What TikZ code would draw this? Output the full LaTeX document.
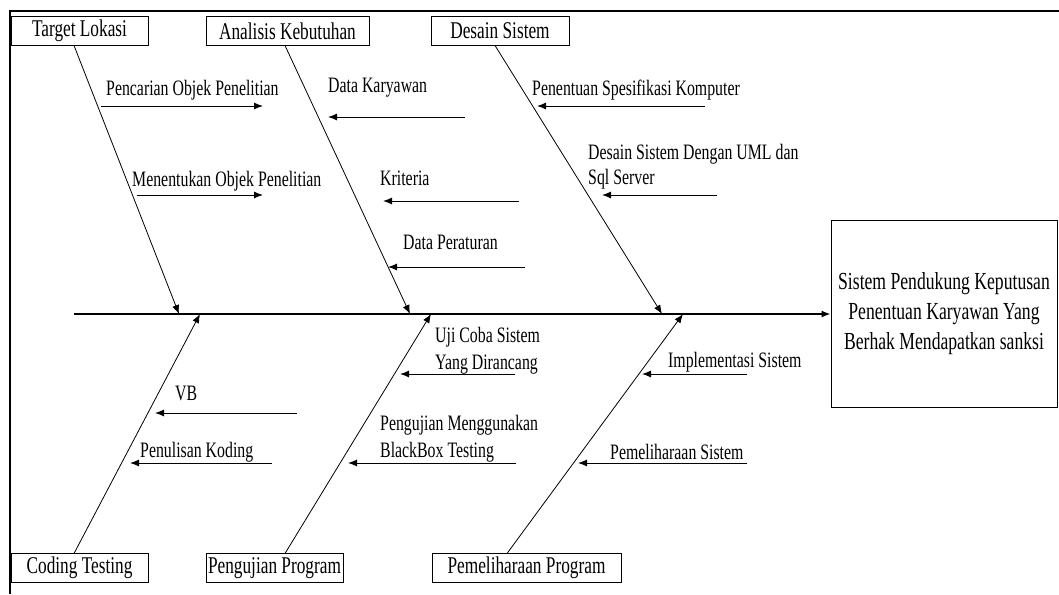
\documentclass[tikz,border=0pt]{standalone}
\usepackage{fontspec}
\setmainfont{Liberation Serif}[FakeStretch=0.72]
\usetikzlibrary{arrows.meta}

\begin{document}
\begin{tikzpicture}[x=1pt,y=-1pt,
  catbox/.style={draw,line width=1pt,minimum height=29pt,inner sep=0pt,font=\fontsize{24}{26}\selectfont},
  lbl/.style={anchor=west,inner sep=0pt,align=left,font=\fontsize{22}{27}\selectfont},
  bone/.style={line width=0.8pt,-{Latex[length=9pt,width=7pt]}},
  sub/.style={line width=1pt,-{Latex[length=9pt,width=7pt]}}]
\useasboundingbox (0,0) rectangle (1059,594);
\draw[line width=2.5pt] (10,594) -- (10,11) -- (1059,11);

\node[catbox,minimum width=137pt] (tl) at (79.5,31) {Target Lokasi};
\node[catbox,minimum width=163pt] (ak) at (287.5,31) {Analisis Kebutuhan};
\node[catbox,minimum width=138pt] (ds) at (500,31) {Desain Sistem};
\node[catbox,minimum width=137pt] (ct) at (79.5,568) {Coding Testing};
\node[catbox,minimum width=137pt] (pg) at (274.5,568) {Pengujian Program};
\node[catbox,minimum width=189pt] (pm) at (526.5,568) {Pemeliharaan Program};
\node[draw,line width=1pt,minimum width=226pt,minimum height=187pt,align=center,
  font=\fontsize{24.5}{30}\selectfont] (spk) at (944,314)
  {Sistem Pendukung Keputusan\\Penentuan Karyawan Yang\\Berhak Mendapatkan sanksi};

\coordinate (tail) at (74,314);
\draw[line width=1.3pt,-{Latex[length=9pt,width=7pt]}] (tail) -- (spk.west);

\coordinate (a1) at (74,45.5);
\coordinate (a2) at (285,45.5);
\coordinate (a3) at (495,45.5);
\coordinate (b1) at (74,553.5);
\coordinate (b2) at (285,553.5);
\coordinate (b3) at (507,553.5);
\coordinate (j1) at (179,314);
\coordinate (j2) at (410,314);
\coordinate (j3) at (662,314);
\coordinate (k1) at (200,314);
\coordinate (k2) at (431,314);
\coordinate (k3) at (683,314);
\draw[bone] (a1) -- (j1);
\draw[bone] (a2) -- (j2);
\draw[bone] (a3) -- (j3);
\draw[bone] (b1) -- (k1);
\draw[bone] (b2) -- (k2);
\draw[bone] (b3) -- (k3);

\node[lbl] (l1) at (106,90) {Pencarian Objek Penelitian};
\node[lbl] (l2) at (132,181) {Menentukan Objek Penelitian};
\node[lbl] (l3) at (328,88) {Data Karyawan};
\node[lbl] (l4) at (380,178) {Kriteria};
\node[lbl] (l5) at (403,242) {Data Peraturan};
\node[lbl] (l6) at (532,90) {Penentuan Spesifikasi Komputer};
\node[lbl,font=\fontsize{22}{25}\selectfont] (l7) at (588,167) {Desain Sistem Dengan UML dan\\Sql Server};
\node[lbl] (l8) at (175,393) {VB};
\node[lbl] (l9) at (140,452) {Penulisan Koding};
\node[lbl] (l10) at (435,351) {Uji Coba Sistem\\Yang Dirancang};
\node[lbl] (l11) at (380,439) {Pengujian Menggunakan\\BlackBox Testing};
\node[lbl] (l12) at (668,362) {Implementasi Sistem};
\node[lbl] (l13) at (610,452) {Pemeliharaan Sistem};

\coordinate (p1s) at (101,106);  \coordinate (p1e) at (263,106);
\coordinate (p2s) at (137,195);  \coordinate (p2e) at (263,195);
\coordinate (q1s) at (465,117);  \coordinate (q1e) at (328,117);
\coordinate (q2s) at (519,201);  \coordinate (q2e) at (383,201);
\coordinate (q3s) at (525,267);  \coordinate (q3e) at (388,267);
\coordinate (r1s) at (705,106);  \coordinate (r1e) at (537,106);
\coordinate (r2s) at (717,195);  \coordinate (r2e) at (602,195);
\coordinate (s1s) at (297,413);  \coordinate (s1e) at (155,413);
\coordinate (s2s) at (272,463);  \coordinate (s2e) at (130,463);
\coordinate (t1s) at (515,374);  \coordinate (t1e) at (400,374);
\coordinate (t2s) at (516,463);  \coordinate (t2e) at (348,463);
\coordinate (u1s) at (747,374);  \coordinate (u1e) at (642,374);
\coordinate (u2s) at (747,463);  \coordinate (u2e) at (578,463);
\draw[sub] (p1s) -- (p1e);
\draw[sub] (p2s) -- (p2e);
\draw[sub] (q1s) -- (q1e);
\draw[sub] (q2s) -- (q2e);
\draw[sub] (q3s) -- (q3e);
\draw[sub] (r1s) -- (r1e);
\draw[sub] (r2s) -- (r2e);
\draw[sub] (s1s) -- (s1e);
\draw[sub] (s2s) -- (s2e);
\draw[sub] (t1s) -- (t1e);
\draw[sub] (t2s) -- (t2e);
\draw[sub] (u1s) -- (u1e);
\draw[sub] (u2s) -- (u2e);
\end{tikzpicture}
\end{document}
